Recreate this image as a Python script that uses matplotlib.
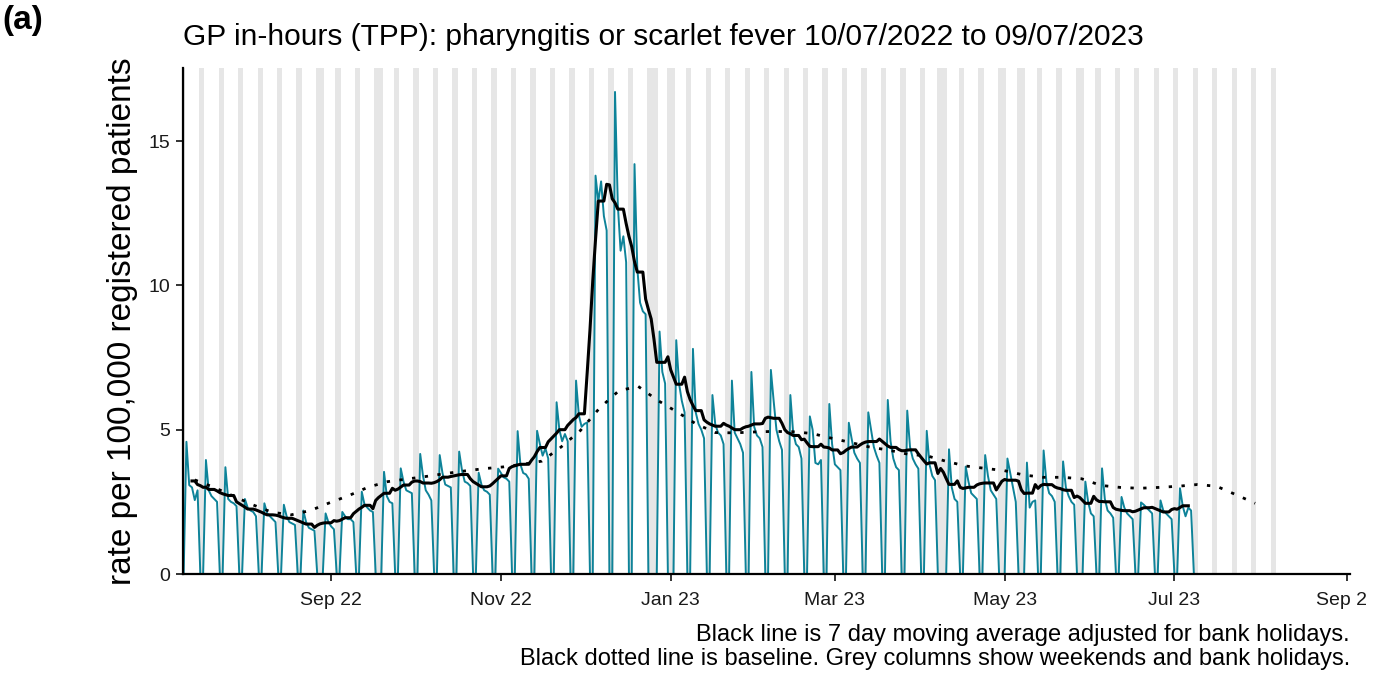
import numpy as np
import pandas as pd
import matplotlib
matplotlib.use("Agg")
import matplotlib.pyplot as plt
from matplotlib.transforms import Bbox

plt.rcParams['font.family'] = ['Liberation Sans', 'DejaVu Sans']

# daily rates, one list per weekday (week starting Mon 11/07/2022), bank holidays = 0
mon_vals = [4.58, 3.95, 3.70, 2.60, 2.45, 2.40, 2.20, 0.00, 2.15, 2.85,
            0.00, 3.66, 4.16, 4.12, 4.24, 3.51, 3.65, 4.95, 4.96, 5.95,
            6.70, 13.80, 16.70, 14.20, 0.00, 0.00, 7.80, 6.20, 6.70, 7.00,
            7.07, 6.20, 5.46, 5.89, 5.24, 5.60, 6.03, 5.66, 4.96, 0.00,
            3.72, 4.12, 0.00, 0.00, 4.28, 3.90, 0.00, 3.66, 2.67, 2.48,
            2.55, 2.97]
tue_vals = [3.08, 2.90, 2.60, 2.30, 2.10, 2.00, 1.80, 2.10, 2.00, 2.40,
            3.54, 3.20, 3.40, 3.50, 3.60, 3.10, 3.50, 3.80, 4.50, 5.00,
            5.50, 12.90, 12.80, 10.60, 0.00, 8.10, 5.60, 5.20, 4.90, 5.10,
            6.00, 4.90, 5.00, 4.50, 4.70, 5.00, 4.60, 4.40, 3.80, 4.32,
            3.20, 3.40, 4.00, 3.86, 3.20, 3.00, 3.20, 2.60, 2.30, 2.40,
            2.20, 2.35]
wed_vals = [3.00, 2.70, 2.50, 2.20, 2.00, 1.80, 1.60, 1.80, 1.90, 2.30,
            2.70, 2.90, 2.90, 3.10, 3.20, 2.90, 3.35, 3.50, 4.10, 4.60,
            5.10, 13.60, 11.20, 9.40, 8.40, 6.60, 5.20, 4.90, 4.70, 4.80,
            5.00, 4.50, 3.85, 3.80, 4.20, 4.40, 4.00, 4.00, 3.40, 3.00,
            2.80, 2.90, 3.50, 2.30, 2.80, 2.70, 2.50, 2.20, 2.10, 2.30,
            2.10, 2.00]
thu_vals = [2.56, 2.60, 2.45, 2.15, 1.90, 1.75, 1.55, 1.65, 1.90, 2.20,
            2.50, 2.85, 2.75, 3.05, 3.15, 2.85, 3.30, 3.45, 4.35, 4.85,
            5.20, 12.40, 11.70, 9.10, 7.00, 6.00, 5.00, 4.80, 4.50, 4.70,
            4.60, 4.40, 3.80, 3.70, 4.00, 4.10, 3.70, 3.80, 3.25, 2.60,
            2.70, 2.75, 3.00, 2.50, 2.70, 2.50, 2.10, 2.10, 2.00, 2.20,
            2.00, 2.30]
fri_vals = [2.90, 2.50, 2.35, 2.00, 1.80, 1.70, 1.50, 1.55, 1.80, 2.15,
            2.45, 2.80, 2.55, 3.00, 3.05, 2.75, 3.20, 3.30, 4.00, 4.60,
            5.25, 11.90, 10.80, 9.00, 6.60, 5.60, 4.70, 4.50, 4.20, 4.40,
            4.30, 4.00, 3.95, 3.60, 3.85, 3.85, 3.60, 3.65, 0.00, 2.50,
            2.60, 2.60, 2.50, 2.55, 2.50, 2.40, 2.00, 1.95, 1.90, 2.10,
            1.90, 2.20]

bank_holidays = pd.to_datetime(['2022-08-29', '2022-09-19', '2022-12-26', '2022-12-27',
                                '2023-01-02', '2023-04-07', '2023-04-10', '2023-05-01',
                                '2023-05-08', '2023-05-29'])

# baseline, roughly weekly points
baseline_vals = [3.26, 3.00, 2.70, 2.40, 2.14, 2.05, 2.20, 2.47, 2.72, 3.01,
                 3.20, 3.29, 3.38, 3.48, 3.57, 3.65, 3.71, 3.80, 3.91, 4.40,
                 4.97, 5.75, 6.35, 6.50, 6.02, 5.62, 5.20, 4.90, 4.89, 4.92,
                 4.94, 4.93, 4.87, 4.71, 4.56, 4.40, 4.29, 4.15, 4.09, 3.90,
                 3.74, 3.66, 3.58, 3.43, 3.35, 3.35, 3.30, 3.07, 3.00, 2.97,
                 3.00, 3.04, 3.10, 3.04, 2.75, 2.45]
baseline_dates = pd.date_range('2022-07-14', '2023-07-30', periods=len(baseline_vals))

tick_dates = pd.to_datetime(['2022-09-01', '2022-11-01', '2023-01-01', '2023-03-01',
                             '2023-05-01', '2023-07-01', '2023-09-01'])
tick_labels = ['Sep 22', 'Nov 22', 'Jan 23', 'Mar 23', 'May 23', 'Jul 23', 'Sep 23']

# build daily series: Sun 10/07/2022 then 52 full weeks
n_weeks = len(mon_vals)
zeros = np.zeros(n_weeks)
weeks = np.column_stack([mon_vals, tue_vals, wed_vals, thu_vals, fri_vals, zeros, zeros]).ravel()
daily = np.concatenate([[0.0], weeks])
dates = pd.date_range('2022-07-10', periods=len(daily), freq='D')
df = pd.DataFrame({'date': dates, 'rate': daily})

off = (df['date'].dt.weekday >= 5) | df['date'].isin(bank_holidays)
work = df['rate'].where(~off)
ma = work.rolling(7, center=True, min_periods=1).mean()
ma.iloc[:3] = np.nan
ma.iloc[-3:] = np.nan

# grey columns: weekends and bank holidays (run a few weeks past the data)
all_days = pd.date_range('2022-07-09', '2023-08-06', freq='D')
grey_days = all_days[(all_days.weekday >= 5) | all_days.isin(bank_holidays)]
# merge runs of consecutive days
runs = []
start = prev = grey_days[0]
for d in grey_days[1:]:
    if (d - prev).days > 1:
        runs.append((start, prev))
        start = d
    prev = d
runs.append((start, prev))

fig = plt.figure(figsize=(13.86, 6.75), dpi=100)
ax = fig.add_axes([0.132, 0.1496, 0.842, 0.7497])

ymax = 17.53
half = pd.Timedelta(hours=11)
for a, b in runs:
    ax.axvspan(a - half, b + half, color='#E6E6E6', lw=0, zorder=0)
ax.plot(df['date'], df['rate'], color='#0E8399', lw=1.4, zorder=2)
ax.plot(df['date'], ma, color='black', lw=2.2, zorder=3)
ax.plot(baseline_dates, baseline_vals, color='black', lw=2,
        linestyle=(0, (1.2, 3.4)), zorder=3)

ax.set_xlim(pd.Timestamp('2022-07-09 18:00'), pd.Timestamp('2023-09-02 02:00'))
ax.set_ylim(0, ymax)
ax.set_yticks([0, 5, 10, 15])
ax.set_xticks(tick_dates)
ax.set_xticklabels(tick_labels)

for s in ['top', 'right']:
    ax.spines[s].set_visible(False)
for s in ['left', 'bottom']:
    ax.spines[s].set_linewidth(1.6)
ax.tick_params(axis='both', length=5, width=1.4, labelsize=14, colors='#1a1a1a', pad=4)
ax.tick_params(axis='x', pad=8)
ax.tick_params(axis='both', color='#333333')

# the last date label is cut at the panel edge, as in the original
clip = Bbox.from_extents(0, 0, 1366, 675)
last = ax.get_xticklabels()[-1]
last.set_clip_box(clip)
last.set_clip_on(True)

ax.set_ylabel('rate per 100,000 registered patients', fontsize=24, labelpad=8)

fig.text(0.002, 0.992, '(a)', fontsize=24, fontweight='bold', ha='left', va='top')
fig.text(0.132, 0.945, 'GP in-hours (TPP): pharyngitis or scarlet fever 10/07/2022 to 09/07/2023',
         fontsize=21.5, ha='left', va='center')
fig.text(0.974, 0.008,
         'Black line is 7 day moving average adjusted for bank holidays.\n'
         'Black dotted line is baseline. Grey columns show weekends and bank holidays.',
         fontsize=17, ha='right', va='bottom', multialignment='right', linespacing=1.1)

fig.savefig('out.png', dpi=100)
